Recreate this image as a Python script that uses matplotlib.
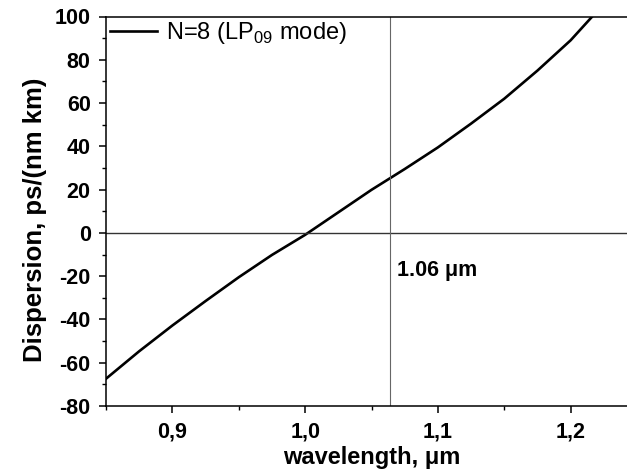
import matplotlib
matplotlib.use("Agg")
import matplotlib.pyplot as plt
from matplotlib.ticker import MultipleLocator

plt.rcParams['font.family'] = ['Liberation Sans', 'DejaVu Sans']
plt.rcParams['mathtext.fontset'] = 'custom'
plt.rcParams['mathtext.rm'] = 'Liberation Sans'
plt.rcParams['axes.unicode_minus'] = False

# dispersion curve
wavelength = [0.85, 0.875, 0.9, 0.925, 0.95, 0.975, 1.0, 1.025, 1.05, 1.075,
              1.1, 1.125, 1.15, 1.175, 1.2, 1.2163, 1.222]
dispersion = [-67.4, -54.7, -42.8, -31.5, -20.5, -10.2, -0.9, 9.5, 19.9, 29.5,
              39.5, 50.5, 62.0, 75.0, 89.0, 100.0, 104.0]
pump_wl = 1.064

fig = plt.figure(figsize=(6.27, 4.71), dpi=100)
ax = fig.add_axes([106/627, 1 - 406/471, 531/627, 389.5/471])

ax.plot(wavelength, dispersion, color='black', lw=1.9, label='N=8 (LP$_{09}$ mode)')
ax.axhline(0, color='#333333', lw=1.0)
ax.axvline(pump_wl, color='#666666', lw=0.8)

ax.set_xlim(0.85, 1.25)
ax.set_ylim(-80, 100)
ax.xaxis.set_minor_locator(MultipleLocator(0.05))
ax.yaxis.set_major_locator(MultipleLocator(20))
ax.yaxis.set_minor_locator(MultipleLocator(10))
ax.set_xticks([0.9, 1.0, 1.1, 1.2])
ax.set_xticklabels(['0,9', '1,0', '1,1', '1,2'])
ax.tick_params(which='major', direction='out', length=5, width=1.1, labelsize=15.5)
ax.tick_params(axis='x', which='major', pad=6)
ax.tick_params(axis='y', which='major', pad=6)
ax.tick_params(which='minor', direction='out', length=3, width=1.0)
for lab in ax.get_xticklabels() + ax.get_yticklabels():
    lab.set_fontweight('bold')
for s in ax.spines.values():
    s.set_linewidth(1.1)
ax.spines['right'].set_visible(False)

ax.set_xlabel('wavelength, \u03bcm', fontsize=17, fontweight='bold', labelpad=3)
ax.set_ylabel('Dispersion, ps/(nm km)', fontsize=18.5, fontweight='bold')
ax.yaxis.set_label_coords(-0.112, 0.477)

ax.text(1.069, -17.2, '1.06 \u03bcm', fontsize=15.5, fontweight='bold', ha='left', va='center')

ax.legend(loc='upper left', frameon=False, fontsize=17, handlelength=2.0,
          borderaxespad=0.0, borderpad=0.15, handletextpad=0.4)

fig.savefig('out.png', dpi=100)
